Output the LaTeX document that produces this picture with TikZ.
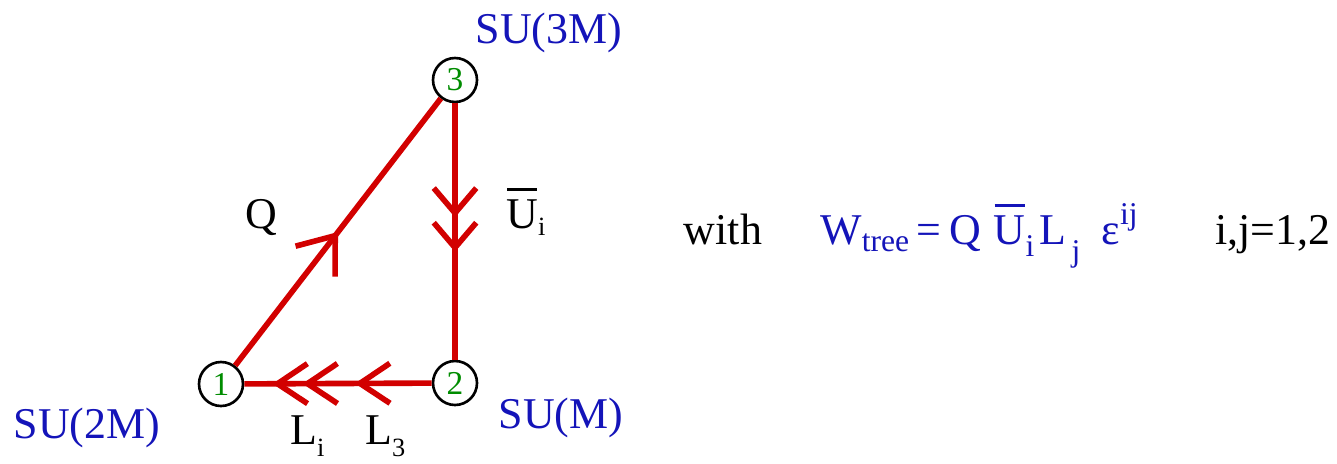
\documentclass[tikz,border=0pt]{standalone}
\usepackage{fontspec}
\setmainfont{Liberation Serif}
\usetikzlibrary{
    arrows.meta,
    decorations.markings
}
\definecolor{rojo}{RGB}{210,0,0}
\definecolor{azul}{RGB}{20,20,185}
\definecolor{verde}{RGB}{0,140,0}
\tikzset{
    >=Stealth,
    nodo/.style={
        circle,
        draw,
        line width=1.5pt,
        minimum size=0.88cm,
        inner sep=0pt,
        text=verde,
        font=\fontsize{19}{21}\selectfont
    },
    campo/.style={
        rojo,
        line width=3.2pt
    },
    grupo/.style={
        text=azul,
        anchor=base
    },
    etiqueta/.style={
        anchor=base,
        inner sep=0pt
    }
}
\newcommand{\barba}[2]{\arrow[line width=3.2pt]{Straight Barb[length=#1,width=#2]}}
\newcommand{\chico}{\fontsize{18}{20}\selectfont}
\newcommand{\menor}{\fontsize{15}{17}\selectfont}
\newcommand{\ubar}{\makebox[0pt][l]{\hspace{0.5pt}\rule[21pt]{17pt}{1.7pt}}U}

\begin{document}
\begin{tikzpicture}[
    x=0.02cm,
    y=-0.02cm,
    font=\fontsize{25}{30}\selectfont
]
    \useasboundingbox (0,0) rectangle (1337,463);

    % Nodos
    \node[nodo] (n1) at (221,384) {1};
    \node[nodo] (n2) at (455,383) {2};
    \node[nodo] (n3) at (455,80)  {3};

    % Grupos
    \node[grupo] (g3) at (549,43)  {SU(3M)};
    \node[grupo] (g1) at (87,438)  {SU(2M)};
    \node[grupo] (g2) at (561,428) {SU(M)};

    % Campos
    \draw[campo, postaction={decorate}, decoration={markings,
            mark=at position 0.5 with {\barba{0.65cm}{1.0cm}}}]
        (n1) -- (n3);
    \draw[campo, postaction={decorate}, decoration={markings,
            mark=at position 0.445 with {\barba{0.5cm}{0.85cm}},
            mark=at position 0.58 with {\barba{0.5cm}{0.85cm}}}]
        (n3) -- (n2);
    \draw[campo, postaction={decorate}, decoration={markings,
            mark=at position 0.41 with {\barba{0.6cm}{0.8cm}},
            mark=at position 0.69 with {\barba{0.6cm}{0.8cm}},
            mark=at position 0.85 with {\barba{0.6cm}{0.8cm}}}]
        (n2) -- (n1);

    % Etiquetas
    \node[etiqueta] (q)  at (261,228) {Q};
    \node[etiqueta, anchor=base west] (u)  at (506,228) {\ubar\raisebox{-4pt}{\menor i}};
    \node[etiqueta, anchor=base west] (li) at (290,444) {L\raisebox{-7pt}{\menor i}};
    \node[etiqueta, anchor=base west] (l3) at (365,444) {L\raisebox{-7pt}{\menor 3}};

    % Superpotencial
    \node[etiqueta] (with) at (723,244) {with};
    \node[etiqueta, text=azul, anchor=base west] (w) at (820,244)
        {W\raisebox{-4.5pt}{\chico tree}\hspace{4pt}=\hspace{5pt}Q\hspace{7pt}\ubar\raisebox{-7pt}{\chico i}\hspace{3pt}L\hspace{3pt}\raisebox{-10pt}{\chico j}\hspace{12pt}ε\raisebox{11pt}{\chico ij}};
    \node[etiqueta, anchor=base west] (ij) at (1215,244) {i,j=1,2};
\end{tikzpicture}
\end{document}
